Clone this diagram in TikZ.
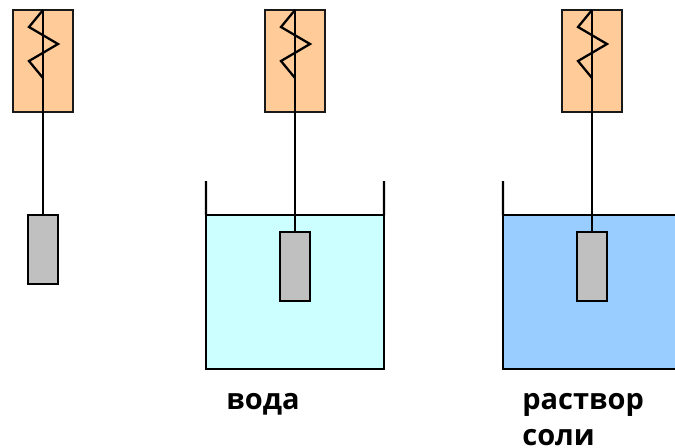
\documentclass[tikz,border=0pt]{standalone}
\usepackage{fontspec}
\setmainfont{Open Sans}
\definecolor{heatercol}{HTML}{FFCC99}
\definecolor{watercol}{HTML}{CCFFFF}
\definecolor{saltcol}{HTML}{99CCFF}
\definecolor{weightcol}{HTML}{C0C0C0}
\tikzset{
  heater/.style={draw=black!90, line width=1.4pt, fill=heatercol, minimum width=1.2cm, minimum height=2.04cm, inner sep=0pt, outer sep=0pt},
  weight/.style={draw=black, line width=1.5pt, fill=weightcol, minimum width=0.6cm, minimum height=1.38cm, inner sep=0pt, outer sep=0pt},
  liquid/.style={draw=black, line width=1.3pt, minimum width=3.56cm, minimum height=3.08cm, inner sep=0pt, outer sep=0pt},
  wire/.style={black, line width=1.3pt},
  wall/.style={black, line width=1.3pt},
  caption/.style={inner sep=0pt, anchor=base west, font=\fontsize{16.5pt}{19pt}\selectfont\bfseries}
}
\begin{document}
\begin{tikzpicture}[x=0.02cm, y=-0.02cm]
    \clip (0,0) rectangle (675,447);

    % Liquids and walls of the vessels
    \node[liquid, fill=watercol] (waterA) at (295,292) {};
    \node[liquid, fill=saltcol] (waterB) at (592,292) {};
    \coordinate (wallAl) at (206,181);
    \coordinate (wallAr) at (384,181);
    \coordinate (wallBl) at (503,181);
    \draw[wall] (wallAl) -- (waterA.north west);
    \draw[wall] (wallAr) -- (waterA.north east);
    \draw[wall] (wallBl) -- (waterB.north west);

    % Heaters
    \node[heater] (heatA) at (43,61) {};
    \node[heater] (heatB) at (295,61) {};
    \node[heater] (heatC) at (592,61) {};

    % Weights
    \node[weight] (loadA) at (43,249.5) {};
    \node[weight] (loadB) at (295,266.5) {};
    \node[weight] (loadC) at (592,266.5) {};

    % Wires through the heaters
    \draw[wire] (heatA.north) -- (loadA.north);
    \draw[wire] (heatB.north) -- (loadB.north);
    \draw[wire] (heatC.north) -- (loadC.north);

    % Zigzags
    \draw[wire, line join=miter] (heatA.north) -- ++(-14,17) -- ++(29,17) -- ++(-29,17) -- ++(14,17);
    \draw[wire, line join=miter] (heatB.north) -- ++(-14,17) -- ++(29,17) -- ++(-29,17) -- ++(14,17);
    \draw[wire, line join=miter] (heatC.north) -- ++(-14,17) -- ++(29,17) -- ++(-29,17) -- ++(14,17);

    % Captions
    \node[caption] (capA) at (226,409) {вода};
    \node[caption] (capB) at (522,409) {раствор};
    \node[caption] (capC) at (522,445) {соли};
\end{tikzpicture}
\end{document}
